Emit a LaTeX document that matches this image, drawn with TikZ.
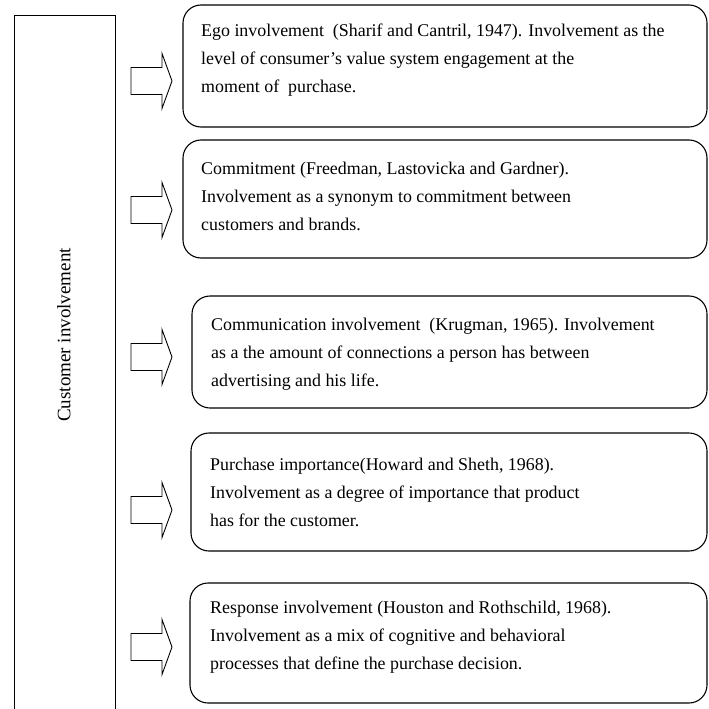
\documentclass[tikz,border=0pt]{standalone}
\usepackage{fontspec}
\setmainfont{Liberation Serif}
\begin{document}
\begin{tikzpicture}[x=1pt,y=-1pt,
  defbox/.style={draw, line width=1.1pt, rounded corners=18pt},
  deftext/.style={anchor=west, inner sep=0pt, align=left, font=\fontsize{17.9}{28}\selectfont},
  blockarrow/.style={draw, line width=0.9pt, line join=miter}]
\useasboundingbox (0,0) rectangle (709,709);
% left frame
\draw[line width=0.9pt] (14,720) -- (14,15) -- (115,15) -- (115,720);
\node[rotate=90, inner sep=0pt, font=\fontsize{19}{22}\selectfont] (lab) at (64,335) {Customer involvement};
% boxes
\draw[defbox] (183,5) rectangle (707,127);
\draw[defbox] (183,140) rectangle (707,258);
\draw[defbox] (192,296) rectangle (707,408);
\draw[defbox] (191,433) rectangle (707,551);
\draw[defbox] (190,583) rectangle (707,703);
% texts
\node[deftext] (t1) at (201,60) {Ego involvement~ (Sharif and Cantril, 1947). Involvement as the\\level of consumer’s value system engagement at the\\moment of~ purchase.};
\node[deftext] (t2) at (201,196) {Commitment (Freedman, Lastovicka and Gardner).\\Involvement as a synonym to commitment between\\customers and brands.};
\node[deftext] (t3) at (211,354) {Communication involvement~ (Krugman, 1965). Involvement\\as a the amount of connections a person has between\\advertising and his life.};
\node[deftext] (t4) at (210,492) {Purchase importance(Howard and Sheth, 1968).\\Involvement as a degree of importance that product\\has for the customer.};
\node[deftext] (t5) at (210,637) {Response involvement (Houston and Rothschild, 1968).\\Involvement as a mix of cognitive and behavioral\\processes that define the purchase decision.};
% block arrows
\foreach \cy in {81,210,357,510,647}{
  \draw[blockarrow] (131,\cy-13.5) -- (162,\cy-13.5) -- (162,\cy-27.5) -- (172,\cy) -- (162,\cy+27.5) -- (162,\cy+13.5) -- (131,\cy+13.5) -- cycle;
}
\end{tikzpicture}
\end{document}
